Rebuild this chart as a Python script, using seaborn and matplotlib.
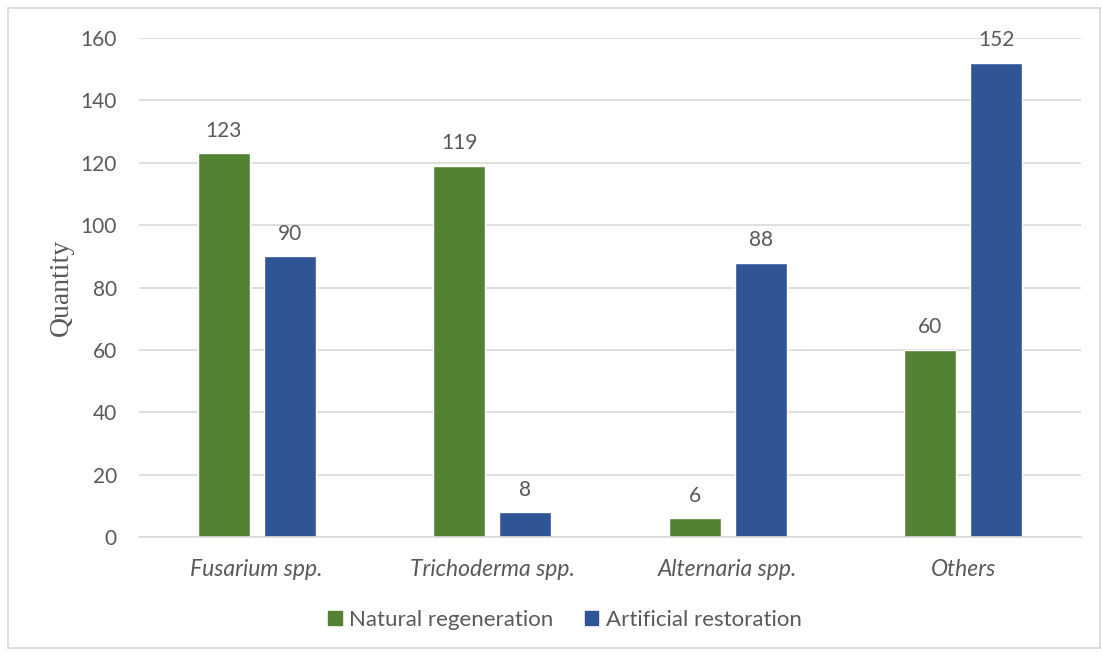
import matplotlib
matplotlib.use("Agg")
import matplotlib.pyplot as plt
import seaborn as sns
import pandas as pd
from matplotlib.patches import Rectangle

categories = ["Fusarium spp.", "Trichoderma spp.", "Alternaria spp.", "Others"]
series_names = ["Natural regeneration", "Artificial restoration"]
natural = [123, 119, 6, 60]
artificial = [90, 8, 88, 152]
yticks = [0, 20, 40, 60, 80, 100, 120, 140, 160]

df = pd.DataFrame({
    "category": categories * 2,
    "series": [series_names[0]] * 4 + [series_names[1]] * 4,
    "value": natural + artificial,
})

sns.set_theme(style="white")
plt.rcParams["font.family"] = ["Lato", "DejaVu Sans"]
TXT = "#595959"

fig = plt.figure(figsize=(11.02, 6.57), dpi=100)
ax = fig.add_axes([139 / 1102, 1 - 537 / 657, (1081 - 139) / 1102, (537 - 38) / 657])

sns.barplot(data=df, x="category", y="value", hue="series",
            palette=["#548235", "#2F5597"], width=0.56, gap=0.21,
            ax=ax, legend=False, saturation=1)

for cont in ax.containers:
    ax.bar_label(cont, padding=9, fontsize=15, color=TXT)

ax.set_ylim(0, 160)
ax.set_yticks(yticks)
ax.set_xlim(-0.5, 3.5)
ax.yaxis.grid(True, color="#D9D9D9", linewidth=1.2)
ax.set_axisbelow(True)
for s in ["top", "right", "left"]:
    ax.spines[s].set_visible(False)
ax.spines["bottom"].set_color("#D9D9D9")
ax.spines["bottom"].set_linewidth(1.2)
ax.tick_params(axis="both", length=0, labelsize=15, colors=TXT)
ax.tick_params(axis="y", pad=16)
ax.tick_params(axis="x", pad=16, labelsize=16.5)
for lab in ax.get_xticklabels():
    lab.set_fontstyle("italic")
ax.set_xlabel("")
ax.set_ylabel("Quantity", family="Liberation Serif", fontsize=20, color=TXT, labelpad=5)

handles = [Rectangle((0, 0), 1, 1, color="#548235"), Rectangle((0, 0), 1, 1, color="#2F5597")]
fig.legend(handles, series_names, loc="center", bbox_to_anchor=(565 / 1102, 1 - 620 / 657),
           ncol=2, frameon=False, fontsize=16, labelcolor=TXT,
           handlelength=0.6, handleheight=0.6, handletextpad=0.35, columnspacing=1.4)

border = Rectangle((8 / 1102, 9 / 657), (1100 - 8) / 1102, (649 - 9) / 657,
                   transform=fig.transFigure, fill=False, edgecolor="#D9D9D9", linewidth=1.2)
fig.add_artist(border)

fig.savefig("out.png", dpi=100)
